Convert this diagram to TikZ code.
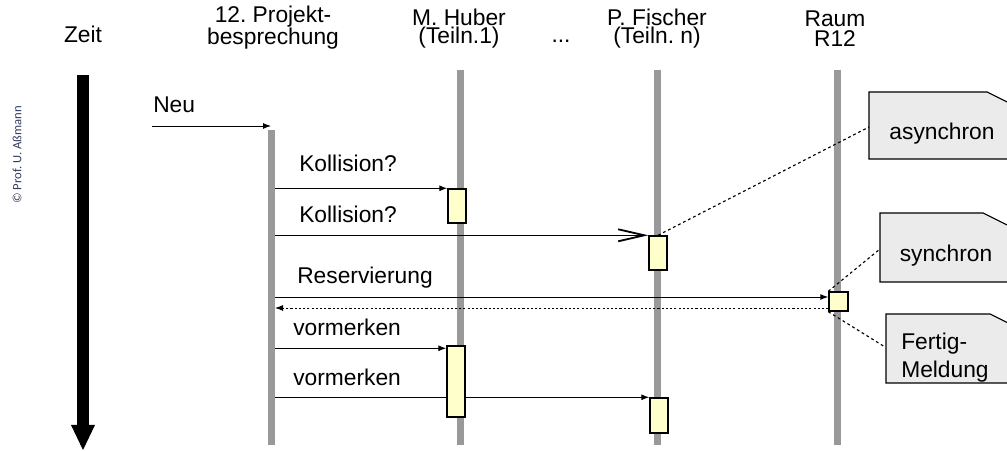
\documentclass[tikz,border=0pt]{standalone}
\usepackage{fontspec}
\setmainfont{Liberation Sans}
\newfontfamily\copyfont{Carlito}
\usetikzlibrary{arrows.meta}
\frenchspacing
\definecolor{cLife}{RGB}{153,153,153}
\definecolor{cAct}{RGB}{255,255,204}
\definecolor{cNote}{RGB}{235,235,235}
\definecolor{cCopy}{RGB}{50,60,95}

\tikzset{
  lifeline/.style={cLife,line width=0.175cm},
  actbox/.style={draw=black,fill=cAct,line width=1pt,inner sep=0pt,minimum width=0.45cm},
  msg/.style={line width=0.7pt,-{Latex[length=0.2cm,width=0.15cm]}},
  asyncmsg/.style={line width=0.7pt,-{Straight Barb[length=0.65cm,width=0.3cm,line width=1.3pt]}},
  retmsg/.style={line width=0.7pt,dash pattern=on 1.5pt off 1.5pt,-{Latex[length=0.2cm,width=0.15cm]}},
  notelink/.style={line width=0.8pt,dash pattern=on 2pt off 2pt},
  notefill/.style={fill=cNote},
  noteline/.style={draw=black,line width=0.8pt},
  lbl/.style={anchor=base west,inner sep=0pt,font=\fontsize{16.2}{13}\selectfont},
  head/.style={anchor=base,inner sep=0pt,align=center,font=\fontsize{16.2}{13}\selectfont},
}

\begin{document}
\begin{tikzpicture}[x=0.025cm,y=-0.025cm]
\useasboundingbox (0,0) rectangle (1007,451);

% copyright
\node[rotate=90,text=cCopy,font=\copyfont\fontsize{9}{10}\selectfont,inner sep=0pt] (copy) at (17,155) {© Prof. U. Aßmann};

% headers (base = last line)
\node[head] (zeit) at (83,43) {Zeit};
\node[head] (proj) at (273,45) {12. Projekt-\\besprechung};
\node[head] (huber) at (459,44) {M. Huber\\(Teiln.1)};
\node[head] (dots) at (561,43) {...};
\node[head] (fischer) at (657,44) {P. Fischer\\(Teiln. n)};
\node[head,font=\fontsize{16.2}{14.5}\selectfont] (raumh) at (835,47) {Raum\\R12};

% time arrow
\fill (77,75) rectangle (89,426);
\fill (71,425) -- (95,425) -- (83,450) -- cycle;

% lifelines
\coordinate (ptop) at (271,130);
\coordinate (pr) at (275,130);
\draw[lifeline] (ptop) -- (271,445);
\draw[lifeline] (460,70) -- (460,445);
\draw[lifeline] (657,70) -- (657,445);
\draw[lifeline] (837,70) -- (837,445);

% activations
\node[actbox,minimum height=0.85cm] (hub1) at (457,206) {};
\node[actbox,minimum height=0.85cm] (fis1) at (658,253) {};
\node[actbox,minimum height=0.475cm,minimum width=0.475cm] (raum) at (838.5,301.5) {};
\node[actbox,minimum height=1.775cm] (hub2) at (456,381.5) {};
\node[actbox,minimum height=0.875cm] (fis2) at (659,415.5) {};

% messages
\coordinate (start) at (152,126);
\draw[msg] (start) -- (ptop |- start) ;
\node[lbl] (neu) at (153,113) {Neu};

\node[lbl] (koll1) at (299,172) {Kollision?};
\draw[msg] (pr |- hub1.north west) -- (hub1.north west);

\node[lbl] (koll2) at (299,223) {Kollision?};
\draw[asyncmsg] (pr |- fis1.north west) -- (fis1.north west);

\node[lbl] (reserv) at (297,284) {Reservierung};
\coordinate (rin) at ([yshift=0.1125cm]raum.west);
\coordinate (rout) at ([yshift=-0.1625cm]raum.west);
\draw[msg] (pr |- rin) -- (rin);
\draw[retmsg] (rout) -- (pr |- rout);

\node[lbl] (vorm1) at (293,336) {vormerken};
\coordinate (hin) at ([yshift=-0.075cm]hub2.north west);
\draw[msg] (pr |- hin) -- (hin);

\node[lbl] (vorm2) at (293,386) {vormerken};
\draw[line width=0.7pt] (pr |- fis2.north west) -- (hub2.west |- fis2.north west);
\draw[msg] (hub2.east |- fis2.north west) -- (fis2.north west);

% notes
\fill[notefill] (869,92) -- (987,92) -- (1007,102) -- (1007,159) -- (869,159) -- cycle;
\draw[noteline] (1007,102) -- (987,92) -- (869,92) -- (869,159) -- (1007,159);
\node[lbl,anchor=center] (async) at (942,134) {asynchron};
\coordinate (asyncpin) at (869,127);
\draw[notelink] (fis1.north) -- (asyncpin);

\fill[notefill] (880,213) -- (983,213) -- (1007,225) -- (1007,282) -- (880,282) -- cycle;
\draw[noteline] (1007,225) -- (983,213) -- (880,213) -- (880,282) -- (1007,282);
\node[lbl,anchor=center] (sync) at (946,256) {synchron};
\coordinate (syncpin) at (880,249);
\draw[notelink] (raum.north west) -- (syncpin);

\fill[notefill] (886,314) -- (990,314) -- (1007,322.5) -- (1007,383) -- (886,383) -- cycle;
\draw[noteline] (1007,322.5) -- (990,314) -- (886,314) -- (886,383) -- (1007,383);
\node[lbl,align=left,font=\fontsize{16.2}{20}\selectfont] (fertig) at (901,378) {Fertig-\\Meldung};
\coordinate (fertigpin) at (885,347);
\draw[notelink] (raum.south west) -- (fertigpin);
\end{tikzpicture}
\end{document}
